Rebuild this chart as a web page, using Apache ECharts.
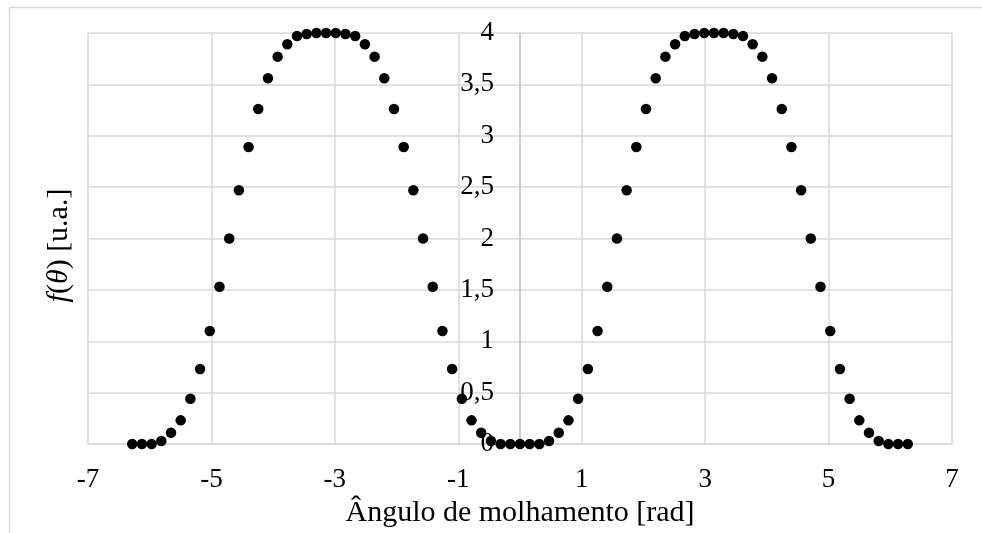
<!DOCTYPE html>
<html>
<head>
<meta charset="utf-8">
<script src="https://cdn.jsdelivr.net/npm/echarts@6/dist/echarts.min.js"></script>
<style>
  html, body { margin: 0; padding: 0; background: #ffffff; }
  #chart { width: 982px; height: 533px; }
</style>
</head>
<body>
<div id="chart"></div>
<script>
// Wetting angle samples [rad]
const angles = [
  -6.283, -6.126, -5.969, -5.812, -5.655, -5.498, -5.341, -5.184, -5.027, -4.869,
  -4.712, -4.555, -4.398, -4.241, -4.084, -3.927, -3.770, -3.613, -3.456, -3.299,
  -3.142, -2.985, -2.827, -2.670, -2.513, -2.356, -2.199, -2.042, -1.885, -1.728,
  -1.571, -1.414, -1.257, -1.100, -0.942, -0.785, -0.628, -0.471, -0.314, -0.157,
   0.000,
   0.157,  0.314,  0.471,  0.628,  0.785,  0.942,  1.100,  1.257,  1.414,  1.571,
   1.728,  1.885,  2.042,  2.199,  2.356,  2.513,  2.670,  2.827,  2.985,  3.142,
   3.299,  3.456,  3.613,  3.770,  3.927,  4.084,  4.241,  4.398,  4.555,  4.712,
   4.869,  5.027,  5.184,  5.341,  5.498,  5.655,  5.812,  5.969,  6.126,  6.283
];

// f(theta) [u.a.]
const fValues = [
  0, 0, 0, 0.03, 0.11, 0.23, 0.44, 0.73, 1.10, 1.53,
  2.00, 2.47, 2.89, 3.26, 3.56, 3.77, 3.89, 3.97, 3.99, 4.00,
  4.00, 4.00, 3.99, 3.97, 3.89, 3.77, 3.56, 3.26, 2.89, 2.47,
  2.00, 1.53, 1.10, 0.73, 0.44, 0.23, 0.11, 0.03, 0, 0,
  0,
  0, 0, 0.03, 0.11, 0.23, 0.44, 0.73, 1.10, 1.53, 2.00,
  2.47, 2.89, 3.26, 3.56, 3.77, 3.89, 3.97, 3.99, 4.00, 4.00,
  4.00, 3.99, 3.97, 3.89, 3.77, 3.56, 3.26, 2.89, 2.47, 2.00,
  1.53, 1.10, 0.73, 0.44, 0.23, 0.11, 0.03, 0, 0, 0
];

// Axis tick values and their printed labels (decimal comma)
const xTicks = [-7, -5, -3, -1, 1, 3, 5, 7];
const xTickLabels = ['-7', '-5', '-3', '-1', '1', '3', '5', '7'];
const yTicks = [0, 0.5, 1, 1.5, 2, 2.5, 3, 3.5, 4];
const yTickLabels = ['0', '0,5', '1', '1,5', '2', '2,5', '3', '3,5', '4'];

const xAxisTitle = 'Ângulo de molhamento [rad]';

const points = angles.map((a, i) => [a, fValues[i]]);

function tickLabel(ticks, labels) {
  return function (v) {
    const i = ticks.findIndex(t => Math.abs(t - v) < 1e-9);
    return i >= 0 ? labels[i] : '';
  };
}

const FONT = '"Liberation Serif", "Times New Roman", serif';
const GRID_COLOR = '#d9d9d9';

// plot box
const GRID_LEFT = 88, GRID_RIGHT = 30;
const X_MIN = -7, X_MAX = 7;
const plotWidth = 982 - GRID_LEFT - GRID_RIGHT;
// shift the value axis from the left edge to angle = 0
const yAxisShift = -plotWidth * (0 - X_MIN) / (X_MAX - X_MIN);

const chart = echarts.init(document.getElementById('chart'), null, { renderer: 'canvas' });

chart.setOption({
  animation: false,
  backgroundColor: '#ffffff',
  textStyle: { fontFamily: FONT, color: '#000000' },
  graphic: [{
    type: 'rect',
    left: 7, top: 5,
    shape: { x: 0, y: 0, width: 1100, height: 700 },
    style: { fill: 'none', stroke: GRID_COLOR, lineWidth: 1.5 },
    silent: true, z: -10
  }],
  grid: { left: GRID_LEFT, right: GRID_RIGHT, top: 33, bottom: 89, containLabel: false },
  xAxis: {
    type: 'value',
    min: X_MIN, max: X_MAX, interval: 2,
    name: xAxisTitle,
    nameLocation: 'middle',
    nameGap: 44,
    nameTextStyle: { fontFamily: FONT, fontSize: 30, color: '#000000' },
    axisLine: { show: true, onZero: false, lineStyle: { color: GRID_COLOR, width: 1.5 } },
    axisTick: { show: false },
    axisLabel: {
      fontFamily: FONT, fontSize: 27, color: '#000000', margin: 22,
      formatter: tickLabel(xTicks, xTickLabels)
    },
    splitLine: { show: true, lineStyle: { color: GRID_COLOR, width: 1.5 } }
  },
  yAxis: [{
    type: 'value',
    position: 'left',
    offset: yAxisShift,
    min: 0, max: 4, interval: 0.5,
    axisLine: { show: true, onZero: false, lineStyle: { color: '#bfbfbf', width: 1.5 } },
    axisTick: { show: false },
    axisLabel: {
      fontFamily: FONT, fontSize: 27, color: '#000000', margin: 26,
      formatter: tickLabel(yTicks, yTickLabels)
    },
    splitLine: { show: true, lineStyle: { color: GRID_COLOR, width: 1.5 } }
  }, {
    // left-hand axis carrying only the quantity name
    type: 'value',
    position: 'left',
    offset: 0,
    min: 0, max: 4,
    name: '{i|f}{n|(}{i|θ}{n|) [u.a.]}',
    nameLocation: 'middle',
    nameGap: 14,
    nameTextStyle: {
      fontFamily: FONT, fontSize: 30, color: '#000000',
      padding: [0, 14, 0, 0],
      rich: {
        i: { fontFamily: FONT, fontSize: 30, fontStyle: 'italic', color: '#000000' },
        n: { fontFamily: FONT, fontSize: 30, color: '#000000' }
      }
    },
    axisLine: { show: false },
    axisTick: { show: false },
    axisLabel: { show: false },
    splitLine: { show: false }
  }],
  series: [{
    type: 'scatter',
    data: points,
    symbol: 'circle',
    symbolSize: 10.5,
    itemStyle: { color: '#000000', opacity: 1 },
    yAxisIndex: 0
  }]
});
</script>
</body>
</html>
